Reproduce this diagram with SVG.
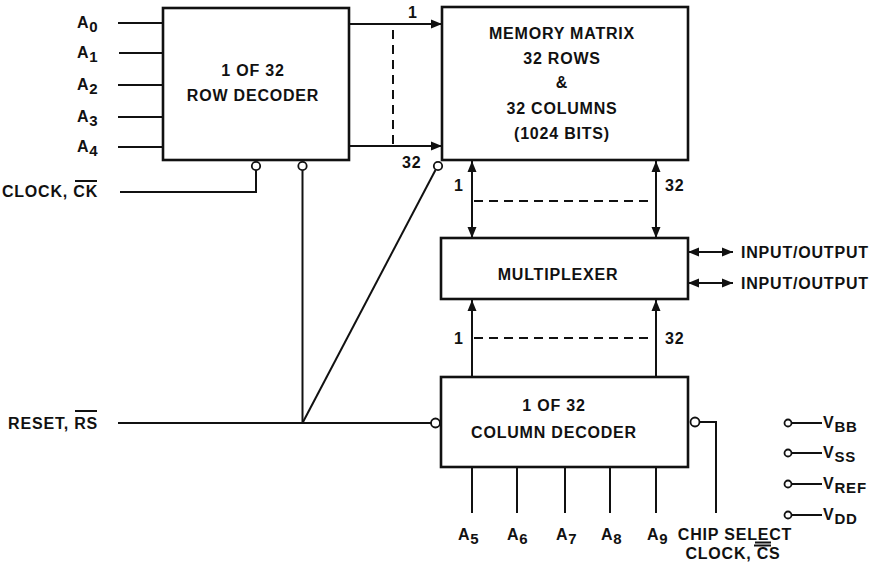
<svg xmlns="http://www.w3.org/2000/svg" width="892" height="566" viewBox="0 0 892 566">
<style>
text{font-family:"Liberation Sans",Arial,sans-serif;font-weight:bold;font-size:16px;letter-spacing:0.8px;fill:#111}
.box{fill:#fff;stroke:#111;stroke-width:2.6}
.w{stroke:#111;stroke-width:2;fill:none}
.d{stroke:#111;stroke-width:2;fill:none;stroke-dasharray:9 6}
.b{fill:#fff;stroke:#111;stroke-width:1.8}
.m{text-anchor:middle}
.e{text-anchor:end}
.s{font-size:15px}
</style>
<defs>
<marker id="ah" markerUnits="userSpaceOnUse" markerWidth="12" markerHeight="10" refX="11" refY="5" orient="auto-start-reverse">
<path d="M0,0.5 L11,5 L0,9.5 z" fill="#111"/>
</marker>
</defs>
<rect width="892" height="566" fill="#fff"/>

<g id="connectors">
<line class="w" x1="118" y1="23" x2="163" y2="23"/>
<line class="w" x1="119" y1="53" x2="163" y2="53"/>
<line class="w" x1="118" y1="85" x2="163" y2="85"/>
<line class="w" x1="118" y1="117" x2="163" y2="117"/>
<line class="w" x1="118" y1="147" x2="163" y2="147"/>
<line class="w" x1="349" y1="24" x2="442" y2="24" marker-end="url(#ah)"/>
<line class="w" x1="349" y1="146" x2="442" y2="146" marker-end="url(#ah)"/>
<line class="d" x1="393" y1="30" x2="393" y2="145"/>
<polyline class="w" points="256,170 256,192 120,192"/>
<line class="w" x1="302.5" y1="170" x2="302.5" y2="423"/>
<line class="w" x1="118" y1="423" x2="431" y2="423"/>
<line class="w" x1="302.5" y1="423" x2="435.5" y2="170"/>
<line class="w" x1="472" y1="161" x2="472" y2="238" marker-start="url(#ah)" marker-end="url(#ah)"/>
<line class="w" x1="656" y1="161" x2="656" y2="238" marker-start="url(#ah)" marker-end="url(#ah)"/>
<line class="d" x1="474" y1="201" x2="654" y2="201"/>
<line class="w" x1="688" y1="252" x2="733" y2="252" marker-start="url(#ah)" marker-end="url(#ah)"/>
<line class="w" x1="688" y1="283" x2="733" y2="283" marker-start="url(#ah)" marker-end="url(#ah)"/>
<line class="w" x1="472" y1="377" x2="472" y2="300" marker-end="url(#ah)"/>
<line class="w" x1="656" y1="377" x2="656" y2="300" marker-end="url(#ah)"/>
<line class="d" x1="474" y1="338" x2="654" y2="338"/>
<polyline class="w" points="699.5,422 716,422 716,513"/>
<line class="w" x1="472" y1="467" x2="472" y2="513"/>
<line class="w" x1="517" y1="467" x2="517" y2="513"/>
<line class="w" x1="565" y1="467" x2="565" y2="513"/>
<line class="w" x1="610" y1="467" x2="610" y2="513"/>
<line class="w" x1="656" y1="467" x2="656" y2="513"/>
<line class="w" x1="791" y1="423" x2="822" y2="423"/>
<line class="w" x1="791" y1="453" x2="822" y2="453"/>
<line class="w" x1="791" y1="484" x2="822" y2="484"/>
<line class="w" x1="791" y1="515" x2="822" y2="515"/>
</g>

<g id="inputs-left">
<text x="77" y="28">A<tspan class="s" dy="4">0</tspan></text>
<text x="77" y="58">A<tspan class="s" dy="4">1</tspan></text>
<text x="77" y="90">A<tspan class="s" dy="4">2</tspan></text>
<text x="77" y="122">A<tspan class="s" dy="4">3</tspan></text>
<text x="77" y="152">A<tspan class="s" dy="4">4</tspan></text>
<text class="e" x="98" y="197">CLOCK, CK</text>
<line class="w" x1="75" y1="181" x2="97" y2="181" stroke-width="1.6"/>
<text class="e" x="98" y="429">RESET, RS</text>
<line class="w" x1="75" y1="411" x2="97" y2="411" stroke-width="1.6"/>
</g>

<g id="row-decoder">
<rect class="box" x="163" y="8" width="186" height="152"/>
<text class="m" x="253" y="76">1 OF 32</text>
<text class="m" x="253" y="101">ROW DECODER</text>
<circle class="b" cx="256" cy="166" r="4.2"/>
<circle class="b" cx="302.5" cy="166" r="4.2"/>
</g>

<g id="row-labels">
<text x="408" y="18">1</text>
<text x="402" y="168">32</text>
</g>

<g id="memory-matrix">
<rect class="box" x="442" y="7" width="246" height="153"/>
<text class="m" x="562" y="39">MEMORY MATRIX</text>
<text class="m" x="562" y="64">32 ROWS</text>
<text class="m" x="562" y="88">&amp;</text>
<text class="m" x="562" y="114">32 COLUMNS</text>
<text class="m" x="562" y="139">(1024 BITS)</text>
<circle class="b" cx="438" cy="166" r="4.2"/>
</g>

<g id="bus-labels">
<text x="454" y="191">1</text>
<text x="665" y="191">32</text>
<text x="454" y="344">1</text>
<text x="665" y="344">32</text>
</g>

<g id="multiplexer">
<rect class="box" x="441" y="238" width="247" height="61"/>
<text class="m" x="558" y="280">MULTIPLEXER</text>
</g>

<g id="io">
<text x="741" y="258">INPUT/OUTPUT</text>
<text x="741" y="289">INPUT/OUTPUT</text>
</g>

<g id="column-decoder">
<rect class="box" x="441" y="377" width="247" height="90"/>
<text class="m" x="554" y="411">1 OF 32</text>
<text class="m" x="554" y="438">COLUMN DECODER</text>
<circle class="b" cx="435.5" cy="423" r="4.5"/>
<circle class="b" cx="695" cy="422" r="4.5"/>
</g>

<g id="inputs-bottom">
<text x="458" y="540">A<tspan class="s" dy="4">5</tspan></text>
<text x="507" y="540">A<tspan class="s" dy="4">6</tspan></text>
<text x="556" y="540">A<tspan class="s" dy="4">7</tspan></text>
<text x="601" y="540">A<tspan class="s" dy="4">8</tspan></text>
<text x="647" y="540">A<tspan class="s" dy="4">9</tspan></text>
<text class="m" x="735" y="540">CHIP SELECT</text>
<line class="w" x1="755" y1="542.5" x2="771" y2="542.5" stroke-width="1.4"/>
<text class="m" x="733" y="559">CLOCK, CS</text>
<line class="w" x1="754" y1="545.5" x2="771" y2="545.5" stroke-width="1.4"/>
</g>

<g id="supply">
<circle class="b" cx="788" cy="423" r="3.5"/>
<circle class="b" cx="788" cy="453" r="3.5"/>
<circle class="b" cx="788" cy="484" r="3.5"/>
<circle class="b" cx="788" cy="515" r="3.5"/>
<text x="823" y="428">V<tspan class="s" dy="4">BB</tspan></text>
<text x="823" y="458">V<tspan class="s" dy="4">SS</tspan></text>
<text x="823" y="489">V<tspan class="s" dy="4">REF</tspan></text>
<text x="823" y="520">V<tspan class="s" dy="4">DD</tspan></text>
</g>
</svg>
